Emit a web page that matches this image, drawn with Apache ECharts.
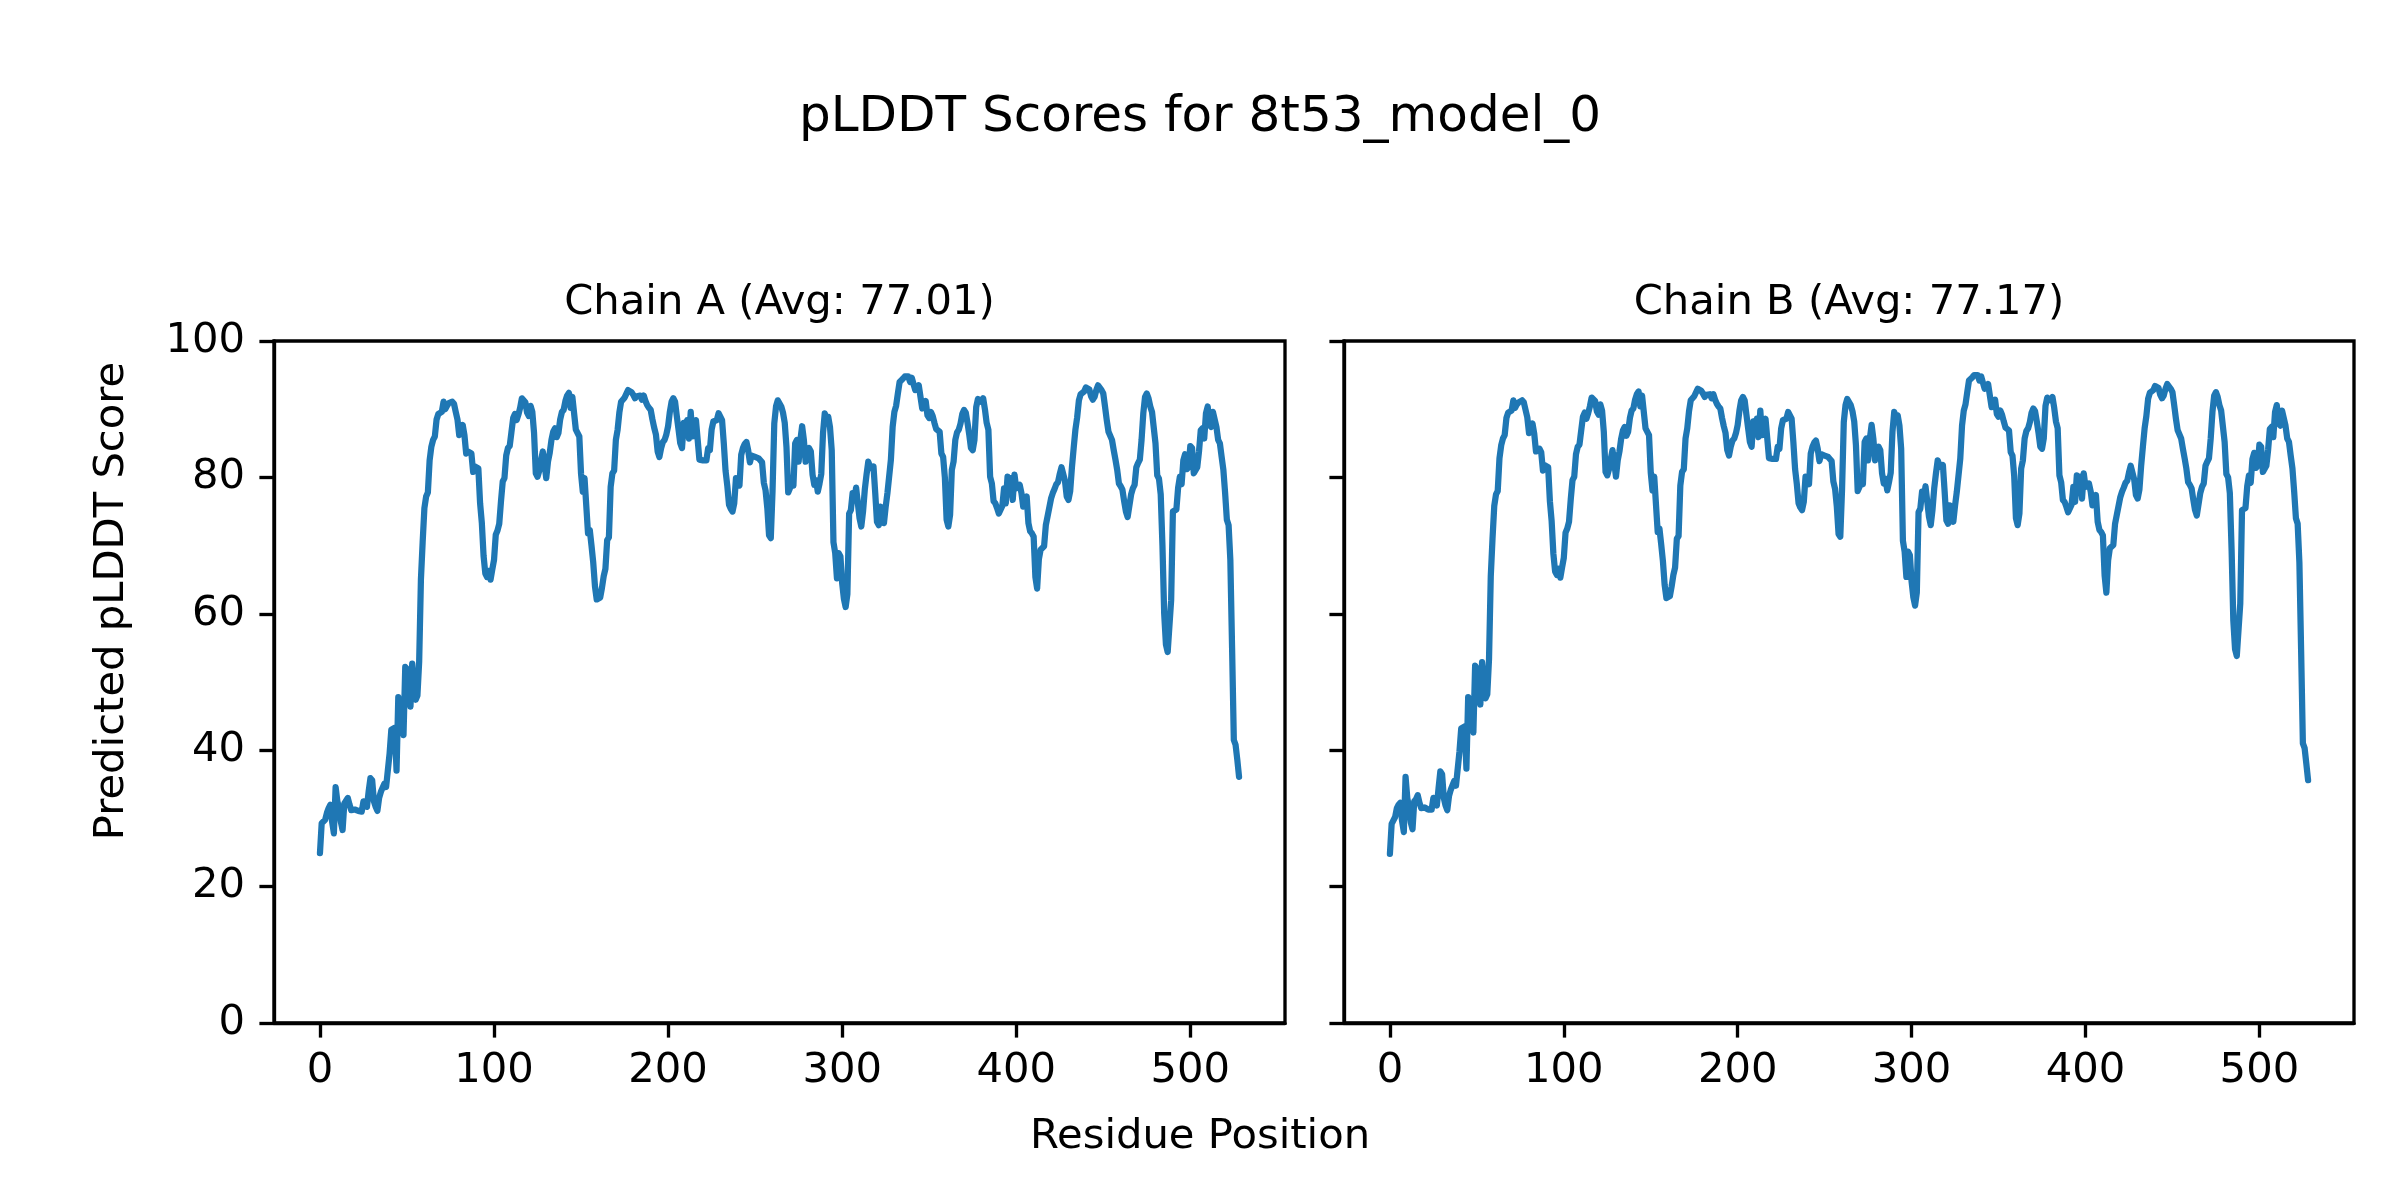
<!DOCTYPE html>
<html>
<head>
<meta charset="utf-8">
<script src="https://cdn.jsdelivr.net/npm/echarts@6/dist/echarts.min.js"></script>
<style>
html,body{margin:0;padding:0;background:#fff;}
#chart{width:2400px;height:1200px;}
</style>
</head>
<body>
<div id="chart"></div>
<script>
const figTitle = "pLDDT Scores for 8t53_model_0";
const chainTitles = ["Chain A (Avg: 77.01)", "Chain B (Avg: 77.17)"];
const xLabel = "Residue Position";
const yLabel = "Predicted pLDDT Score";
const xTicks = [0, 100, 200, 300, 400, 500];
const yTicks = [0, 20, 40, 60, 80, 100];

const chainA = [
24.9,29.3,29.3,29.8,30.8,31.5,32.0,29.5,27.8,34.6,
32.5,31.5,29.5,28.3,32.2,32.6,33.0,32.0,31.2,31.4,
31.3,31.2,31.1,31.0,31.0,32.5,32.0,31.7,34.0,35.9,
35.6,32.5,31.7,31.1,33.0,33.9,34.0,35.1,34.6,34.4,
39.5,43.0,43.2,43.3,37.0,47.8,44.5,43.7,42.2,52.2,
51.9,48.5,46.4,52.7,49.5,47.4,48.0,53.0,65.0,70.5,
75.5,77.2,77.8,82.5,84.5,85.5,86.0,88.5,89.3,89.4,
89.6,91.1,90.0,90.5,90.9,91.0,91.1,90.8,89.6,88.5,
86.2,86.8,87.7,86.2,83.5,83.8,84.0,83.5,80.8,81.6,
81.5,81.3,76.2,73.3,68.5,65.9,65.4,66.3,65.0,66.5,
67.9,71.6,72.2,73.2,76.5,79.4,79.9,83.2,84.3,84.6,
84.8,88.7,89.3,88.4,89.2,90.2,91.6,91.5,91.0,89.5,
89.0,90.5,89.6,86.5,80.6,80.1,81.0,82.5,83.8,82.0,
79.9,82.3,83.6,85.5,86.7,87.2,85.9,86.5,88.5,89.6,
89.9,91.2,92.0,92.4,90.2,91.8,91.6,87.0,86.8,86.0,
80.5,77.9,79.9,79.9,71.8,72.3,70.0,67.5,64.0,62.1,
62.0,62.4,63.8,65.5,66.6,70.8,71.2,78.6,80.6,81.0,
85.5,87.0,89.5,91.1,91.4,91.7,91.8,92.8,92.8,92.5,
92.1,91.6,91.9,92.0,92.0,91.4,92.0,91.2,90.6,90.2,
89.9,88.5,87.3,86.3,83.8,83.0,84.3,85.2,85.5,86.3,
87.5,89.6,91.1,91.6,91.1,89.0,87.0,85.0,84.3,88.0,
87.4,88.4,85.7,89.6,86.0,87.0,88.4,88.2,82.6,82.6,
82.5,82.3,82.5,84.3,84.0,87.0,88.2,88.2,88.4,89.4,
89.3,88.4,85.0,81.0,78.8,76.0,75.4,75.0,76.2,79.9,
79.9,78.8,83.3,84.3,84.9,85.2,84.0,82.2,83.2,83.3,
83.0,82.9,82.8,82.8,82.2,79.2,78.1,75.5,71.5,71.1,
78.0,87.9,90.4,91.3,91.2,90.4,89.5,88.0,84.5,77.8,
78.4,80.0,78.8,85.0,85.5,82.3,85.5,87.5,85.5,82.3,
84.0,84.3,83.8,80.4,78.9,79.6,77.9,79.1,80.5,86.5,
89.4,88.5,88.9,87.4,84.0,70.5,68.9,65.2,68.9,68.4,
64.5,62.2,61.0,62.9,74.7,75.2,77.7,76.7,78.5,78.5,
74.0,72.8,75.0,78.2,80.4,82.3,81.6,81.3,81.6,77.7,
73.5,73.0,75.7,75.5,73.3,75.7,77.7,77.9,82.6,87.4,
89.6,90.5,92.3,94.0,94.2,94.5,94.8,95.0,94.8,94.0,
94.6,94.5,92.8,92.6,93.5,93.5,90.1,90.1,91.2,89.1,
88.7,89.6,89.0,88.0,87.1,87.0,86.7,83.5,83.0,80.0,
73.8,72.8,74.5,81.1,82.3,85.5,86.6,87.0,87.9,89.3,
89.9,89.5,88.0,86.3,84.3,84.0,85.5,90.3,91.5,91.6,
91.1,91.6,90.0,88.0,87.0,80.1,79.1,76.5,76.2,75.5,
74.7,74.5,75.8,78.4,76.2,80.1,77.5,79.9,76.7,80.4,
78.4,78.6,78.9,77.7,75.7,76.7,77.2,73.3,72.1,71.8,
71.3,65.4,63.7,68.0,69.4,69.4,69.9,73.0,74.3,74.5,
76.9,77.7,78.3,79.0,79.3,80.5,81.5,81.3,79.5,77.2,
76.7,78.0,81.5,84.3,87.0,88.8,91.3,92.2,92.3,92.6,
93.2,93.3,92.9,91.9,91.4,91.8,92.8,93.5,93.5,92.8,
92.3,90.4,88.4,86.7,86.5,85.5,84.0,82.6,81.1,79.1,
78.7,78.2,76.5,75.0,74.2,74.2,77.5,78.4,78.9,81.5,
82.1,82.6,85.5,89.4,91.8,92.3,91.6,90.4,89.6,89.4,
85.0,80.3,79.8,77.5,70.0,60.0,55.5,54.4,54.3,62.0,
75.0,75.1,75.3,78.5,80.1,79.0,82.5,83.4,81.2,81.5,
84.6,84.3,80.6,80.6,81.5,83.8,86.9,87.2,85.7,89.4,
90.4,87.7,87.4,89.6,89.4,87.4,85.5,85.0,83.0,81.1,
77.7,73.8,73.0,67.9,55.0,41.5,40.8,38.6,36.1
];

const chainB = [
24.8,29.2,29.4,30.2,31.5,32.0,32.3,29.6,28.0,36.1,
33.0,31.6,29.4,28.4,32.5,32.8,33.4,32.3,31.5,31.6,
31.6,31.4,31.3,31.2,31.3,33.0,32.4,31.9,34.5,36.9,
36.5,33.0,31.9,31.2,33.3,34.2,34.1,35.5,34.8,34.6,
39.8,43.2,43.4,43.5,37.3,47.8,45.0,44.0,42.6,52.4,
52.0,48.8,46.7,52.9,49.8,47.6,48.2,53.4,65.5,71.0,
75.8,77.5,78.0,82.8,84.7,85.7,86.2,88.7,89.5,89.6,
89.8,91.3,90.2,90.7,91.0,91.2,91.3,91.0,89.9,88.8,
86.5,87.0,87.9,86.4,83.8,84.0,84.2,83.7,81.0,81.8,
81.7,81.5,76.5,73.6,68.8,66.2,65.7,66.6,65.3,66.8,
68.2,71.9,72.5,73.5,76.8,79.6,80.1,83.4,84.5,84.8,
85.0,88.9,89.5,88.6,89.4,90.4,91.7,91.6,91.2,89.7,
89.2,90.7,89.8,86.7,80.8,80.3,81.2,82.7,84.0,82.2,
80.1,82.5,83.8,85.7,86.9,87.4,86.1,86.7,88.7,89.8,
90.1,91.4,92.2,92.6,90.4,92.0,91.8,87.2,87.0,86.2,
80.7,78.1,80.1,80.1,72.0,72.5,70.2,67.7,64.2,62.3,
62.2,62.6,64.0,65.7,66.8,71.0,71.4,78.8,80.8,81.2,
85.7,87.2,89.7,91.3,91.6,91.9,92.0,93.0,93.0,92.7,
92.3,91.8,92.1,92.2,92.2,91.6,92.2,91.4,90.8,90.4,
90.1,88.7,87.5,86.5,84.0,83.2,84.5,85.4,85.7,86.5,
87.7,89.8,91.3,91.8,91.3,89.2,87.2,85.2,84.5,88.2,
87.6,88.6,85.9,89.8,86.2,87.2,88.6,88.4,82.8,82.8,
82.7,82.5,82.7,84.5,84.2,87.2,88.4,88.4,88.6,89.6,
89.5,88.6,85.2,81.2,79.0,76.2,75.6,75.2,76.4,80.1,
80.1,79.0,83.5,84.5,85.1,85.4,84.2,82.4,83.4,83.5,
83.2,83.1,83.0,83.0,82.4,79.4,78.3,75.7,71.7,71.3,
78.2,88.1,90.6,91.5,91.4,90.6,89.7,88.2,84.7,78.0,
78.6,80.2,79.0,85.2,85.7,82.5,85.7,87.7,85.7,82.5,
84.2,84.5,84.0,80.6,79.1,79.8,78.1,79.3,80.7,86.7,
89.6,88.7,89.1,87.6,84.2,70.7,69.1,65.4,69.1,68.6,
64.7,62.4,61.2,63.1,74.9,75.4,77.9,76.9,78.7,78.7,
74.2,73.0,75.2,78.4,80.6,82.5,81.8,81.5,81.8,77.9,
73.7,73.2,75.9,75.7,73.5,75.9,77.9,78.1,82.8,87.6,
89.8,90.7,92.5,94.2,94.4,94.7,95.0,95.2,95.0,94.2,
94.8,94.7,93.0,92.8,93.7,93.7,90.3,90.3,91.4,89.3,
88.9,89.8,89.2,88.2,87.3,87.2,86.9,83.7,83.2,80.2,
74.0,73.0,74.7,81.3,82.5,85.7,86.8,87.2,88.1,89.5,
90.1,89.7,88.2,86.5,84.5,84.2,85.7,90.5,91.7,91.8,
91.3,91.8,90.2,88.2,87.2,80.3,79.3,76.7,76.4,75.7,
74.9,74.7,76.0,78.6,76.4,80.3,77.7,80.1,76.9,80.6,
78.6,78.8,79.1,77.9,75.9,76.9,77.4,73.5,72.3,72.0,
71.5,65.6,63.1,67.8,69.6,69.6,70.1,73.2,74.5,74.7,
77.1,77.9,78.5,79.2,79.5,80.7,81.7,81.5,79.7,77.4,
76.9,78.2,81.7,84.5,87.2,89.0,91.5,92.4,92.5,92.8,
93.4,93.5,93.1,92.1,91.6,92.0,93.0,93.7,93.7,93.0,
92.5,90.6,88.6,86.9,86.7,85.7,84.2,82.8,81.3,79.3,
78.9,78.4,76.7,75.2,74.4,74.4,77.7,78.6,79.1,81.7,
82.3,82.8,85.7,89.6,92.0,92.5,91.8,90.6,89.8,89.6,
85.2,80.5,80.0,77.7,69.5,59.0,54.8,53.8,53.6,61.5,
75.2,75.3,75.5,78.7,80.3,79.2,82.7,83.6,81.4,81.7,
84.8,84.5,80.8,80.8,81.7,84.0,87.1,87.4,85.9,89.6,
90.6,87.9,87.6,89.8,89.6,87.6,85.7,85.2,83.2,81.3,
77.9,74.0,73.2,67.5,54.5,41.0,40.3,38.0,35.6
];

const font = "DejaVu Sans";
const blue = "#1f77b4";
const fs = 41.7;

function toPairs(arr){ return arr.map((v,i)=>[i, v]); }

const grids = [
  {left: 274, top: 341, width: 1011, height: 682},
  {left: 1344, top: 341, width: 1010, height: 682}
];

const xMin = -26.4, xMax = 554.4;

function xAxisFor(i){
  return {
    type: 'value', gridIndex: i, min: xMin, max: xMax,
    splitLine: {show: false},
    axisLine: {show: true, onZero: false, lineStyle: {color: '#000', width: 3.33}},
    axisTick: {show: true, inside: false, length: 14.6, lineStyle: {color: '#000', width: 3.33}, customValues: xTicks},
    axisLabel: {show: true, margin: 27, color: '#000', fontFamily: font, fontSize: fs, customValues: xTicks}
  };
}
function yAxisFor(i){
  return {
    type: 'value', gridIndex: i, min: 0, max: 100, interval: 20,
    splitLine: {show: false},
    axisLine: {show: true, onZero: false, lineStyle: {color: '#000', width: 3.33}},
    axisTick: {show: true, inside: false, length: 14.6, lineStyle: {color: '#000', width: 3.33}},
    axisLabel: {show: i === 0, margin: 29, color: '#000', fontFamily: font, fontSize: fs}
  };
}

const chart = echarts.init(document.getElementById('chart'), null, {renderer: 'canvas', width: 2400, height: 1200});

chart.setOption({
  backgroundColor: '#fff',
  animation: false,
  grid: grids.map(g => Object.assign({show: true, borderColor: '#000', borderWidth: 3.33, backgroundColor: 'transparent'}, g)),
  xAxis: [xAxisFor(0), xAxisFor(1)],
  yAxis: [yAxisFor(0), yAxisFor(1)],
  series: [
    {type: 'line', xAxisIndex: 0, yAxisIndex: 0, data: toPairs(chainA), showSymbol: false, symbol: 'none',
     lineStyle: {color: blue, width: 6.25, join: 'round', cap: 'round'}, itemStyle: {color: blue}},
    {type: 'line', xAxisIndex: 1, yAxisIndex: 1, data: toPairs(chainB), showSymbol: false, symbol: 'none',
     lineStyle: {color: blue, width: 6.25, join: 'round', cap: 'round'}, itemStyle: {color: blue}}
  ],
  graphic: [
    {type: 'text', x: 1200, y: 118, style: {text: figTitle, font: '50px "DejaVu Sans"', fill: '#000', textAlign: 'center', textVerticalAlign: 'middle'}},
    {type: 'text', x: 779.5, y: 303, style: {text: chainTitles[0], font: '41.7px "DejaVu Sans"', fill: '#000', textAlign: 'center', textVerticalAlign: 'middle'}},
    {type: 'text', x: 1849, y: 303, style: {text: chainTitles[1], font: '41.7px "DejaVu Sans"', fill: '#000', textAlign: 'center', textVerticalAlign: 'middle'}},
    {type: 'text', x: 1200, y: 1137, style: {text: xLabel, font: '41.7px "DejaVu Sans"', fill: '#000', textAlign: 'center', textVerticalAlign: 'middle'}},
    {type: 'text', x: 112, y: 601, rotation: Math.PI/2, style: {text: yLabel, font: '41.7px "DejaVu Sans"', fill: '#000', textAlign: 'center', textVerticalAlign: 'middle'}}
  ]
});
</script>
</body>
</html>
